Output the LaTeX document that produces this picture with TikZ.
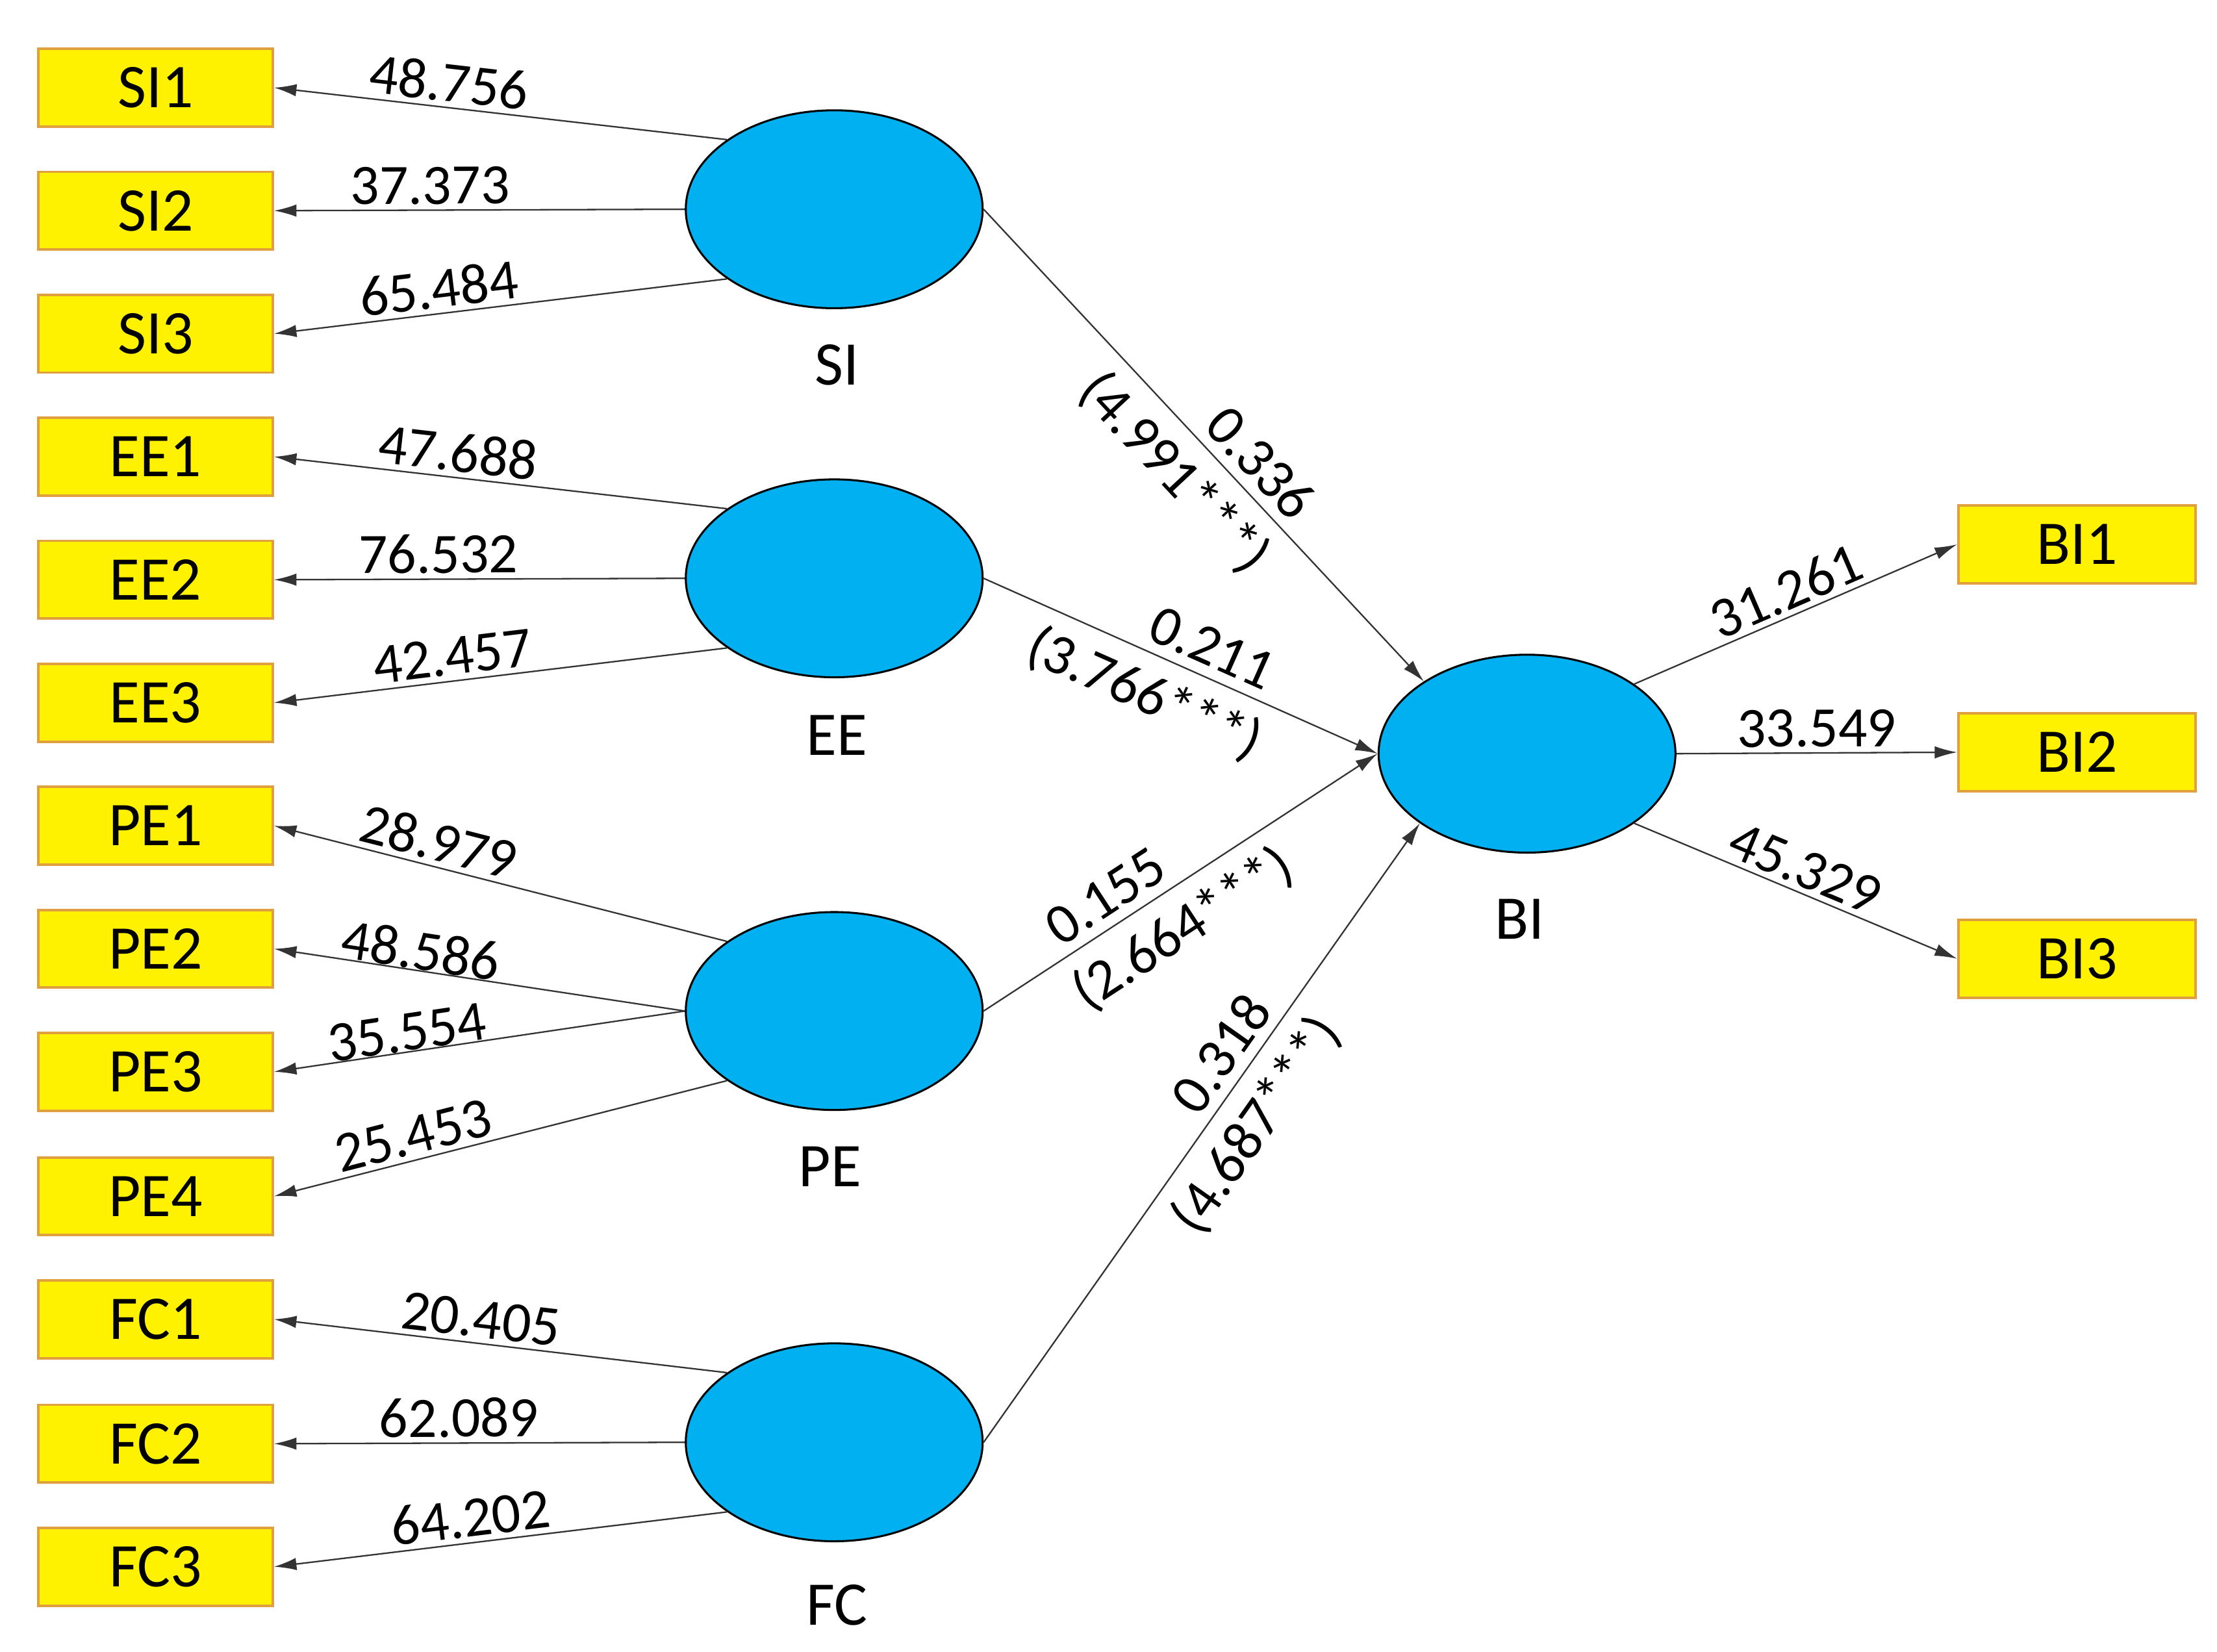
\documentclass[tikz,border=0pt]{standalone}
\usepackage{fontspec}
\setmainfont{Carlito}
\usetikzlibrary{shapes.geometric,arrows.meta}
\definecolor{boxy}{HTML}{FFF200}
\definecolor{boxb}{HTML}{E0A040}
\definecolor{lat}{HTML}{00B0F0}
\begin{document}
\begin{tikzpicture}[x=0.02cm,y=-0.02cm,
  ind/.style={draw=boxb,line width=1pt,fill=boxy,minimum width=3.32cm,minimum height=1.1cm,inner sep=0pt,font=\fontsize{25}{30}\selectfont},
  lv/.style={ellipse,draw=black,line width=0.8pt,fill=lat,minimum width=4.2cm,minimum height=2.8cm,inner sep=0pt},
  lab/.style={font=\fontsize{25}{30}\selectfont},
  num/.style={font=\fontsize{23}{27}\selectfont,sloped,inner sep=2pt},
  arr/.style={draw=black!80,line width=0.6pt,-{Latex[length=9pt,width=5pt]}}]
\useasboundingbox (0,0) rectangle (1568,1168);
\foreach \n/\y in {SI1/62,SI2/149,SI3/236,EE1/323,EE2/410,EE3/497,PE1/584,PE2/671,PE3/758,PE4/846,FC1/933,FC2/1021,FC3/1108}
  \node[ind] (\n) at (110,\y) {\n};
\foreach \n/\y in {BI1/385,BI2/532,BI3/678}
  \node[ind,minimum width=3.36cm] (\n) at (1469,\y) {\n};
\node[lv] (SI) at (590,148) {};
\node[lv] (EE) at (590,409) {};
\node[lv] (PE) at (590,715) {};
\node[lv] (FC) at (590,1020) {};
\node[lv] (BI) at (1080,533) {};
\node[lab] (tSI) at (592,258) {SI};
\node[lab] (tEE) at (592,520) {EE};
\node[lab] (tPE) at (587,825) {PE};
\node[lab] (tFC) at (592,1135) {FC};
\node[lab] (tBI) at (1075,650) {BI};
\draw[arr] (SI.147) -- node[num,pos=0.62,above]{48.756} (SI1.east);
\draw[arr] (SI.west) -- node[num,pos=0.62,above]{37.373} (SI2.east);
\draw[arr] (SI.213) -- node[num,pos=0.63,above]{65.484} (SI3.east);
\draw[arr] (EE.147) -- node[num,pos=0.6,above]{47.688} (EE1.east);
\draw[arr] (EE.west) -- node[num,pos=0.6,above]{76.532} (EE2.east);
\draw[arr] (EE.213) -- node[num,pos=0.6,above]{42.457} (EE3.east);
\draw[arr] (PE.147) -- node[num,pos=0.65,above]{28.979} (PE1.east);
\draw[arr] (PE.west) -- node[num,pos=0.65,above,inner sep=0pt]{48.586} (PE2.east);
\draw[arr] (PE.west) -- node[num,pos=0.67,above,inner sep=0pt]{35.554} (PE3.east);
\draw[arr] (PE.213) -- node[num,pos=0.68,above]{25.453} (PE4.east);
\draw[arr] (FC.147) -- node[num,pos=0.55,above]{20.405} (FC1.east);
\draw[arr] (FC.west) -- node[num,pos=0.55,above]{62.089} (FC2.east);
\draw[arr] (FC.213) -- node[num,pos=0.56,above]{64.202} (FC3.east);
\draw[arr] (SI.east) -- node[num,pos=0.58,above=2pt]{0.336} node[num,pos=0.5,below=4pt]{(4.991***)} (BI.145.5);
\draw[arr] (EE.east) -- node[num,pos=0.55,above=2pt]{0.211} node[num,pos=0.45,below=4pt]{(3.766***)} (BI.west);
\draw[arr] (PE.east) -- node[num,pos=0.35,above=2pt]{0.155} node[num,pos=0.45,below=4pt]{(2.664***)} (BI.west);
\draw[arr] (FC.east) -- node[num,pos=0.6,above=2pt]{0.318} node[num,pos=0.55,below=4pt]{(4.687***)} (BI.213);
\draw[arr] (BI.33) -- node[num,pos=0.5,above]{31.261} (BI1.west);
\draw[arr] (BI.east) -- node[num,pos=0.5,above]{33.549} (BI2.west);
\draw[arr] (BI.-33) -- node[num,pos=0.5,above]{45.329} (BI3.west);
\end{tikzpicture}
\end{document}
